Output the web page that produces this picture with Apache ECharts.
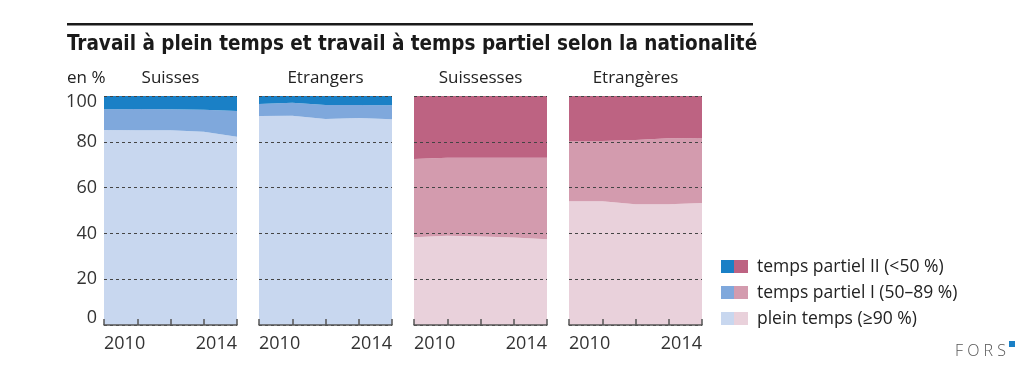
<!DOCTYPE html>
<html>
<head>
<meta charset="utf-8">
<script src="https://cdn.jsdelivr.net/npm/echarts@6/dist/echarts.min.js"></script>
<style>
  html, body { margin: 0; padding: 0; background: #fff; }
  #chart { width: 1035px; height: 376px; }
</style>
</head>
<body>
<div id="chart"></div>
<script>
// 数据
const years = ['2010', '2011', '2012', '2013', '2014']
const panelNames = ['Suisses', 'Etrangers', 'Suissesses', 'Etrangères']
const legendNames = ['temps partiel II (<50 %)', 'temps partiel I (50–89 %)', 'plein temps (≥90 %)']

// plein temps / temps partiel I / temps partiel II
const suissesPlein = [85.1, 85.0, 85.0, 84.4, 82.2]
const suissesPartiel1 = [9.1, 9.3, 9.2, 9.6, 11.2]
const suissesPartiel2 = [5.8, 5.7, 5.8, 6.0, 6.6]

const etrangersPlein = [91.3, 91.4, 90.0, 90.4, 89.8]
const etrangersPartiel1 = [5.2, 5.7, 6.1, 5.7, 6.2]
const etrangersPartiel2 = [3.5, 2.9, 3.9, 3.9, 4.0]

const suissessesPlein = [38.3, 39.0, 38.6, 38.2, 37.4]
const suissessesPartiel1 = [34.2, 34.0, 34.4, 34.8, 35.6]
const suissessesPartiel2 = [27.5, 27.0, 27.0, 27.0, 27.0]

const etrangeresPlein = [54.0, 54.0, 52.7, 52.7, 53.3]
const etrangeresPartiel1 = [26.3, 26.3, 28.1, 28.8, 28.4]
const etrangeresPartiel2 = [19.7, 19.7, 19.2, 18.5, 18.3]

const panelData = [
  [suissesPlein, suissesPartiel1, suissesPartiel2],
  [etrangersPlein, etrangersPartiel1, etrangersPartiel2],
  [suissessesPlein, suissessesPartiel1, suissessesPartiel2],
  [etrangeresPlein, etrangeresPartiel1, etrangeresPartiel2]
]

// 颜色
const blues = ['#c8d7ef', '#7fa8dc', '#1a80c6']
const pinks = ['#e9d1db', '#d39bae', '#bd6382']
const panelColors = [blues, blues, pinks, pinks]

const font = 'Open Sans'
const gridLefts = [104, 259, 414, 569]
const gridWidth = 133
const gridTop = 96
const gridHeight = 229

const myChart = echarts.init(document.querySelector('#chart'))

const grids = gridLefts.map(left => ({ left: left, top: gridTop, width: gridWidth, height: gridHeight }))

const xAxes = gridLefts.map((l, i) => ({
  type: 'category',
  gridIndex: i,
  data: years,
  boundaryGap: false,
  axisLine: { lineStyle: { color: '#555', width: 1.5 } },
  axisTick: { inside: true, length: 6, lineStyle: { color: '#555', width: 1.5 } },
  axisLabel: {
    interval: 0,
    formatter: (v, idx) => (idx === 0 || idx === 4) ? v : '',
    color: '#333',
    fontFamily: font,
    fontSize: 18,
    margin: 10,
    alignMinLabel: 'left',
    alignMaxLabel: 'right'
  },
  z: 5
}))

const yAxes = gridLefts.map((l, i) => ({
  type: 'value',
  gridIndex: i,
  min: 0,
  max: 100,
  interval: 20,
  axisLine: { show: false },
  axisTick: { show: false },
  axisLabel: {
    show: i === 0,
    color: '#333',
    fontFamily: font,
    fontSize: 18,
    margin: 7,
    // 首尾标签向内收
    formatter: v => v === 100 ? '{top|100}' : (v === 0 ? '{bot|0}' : v),
    rich: {
      top: { fontFamily: font, fontSize: 18, color: '#333', padding: [12, 0, 0, 0] },
      bot: { fontFamily: font, fontSize: 18, color: '#333', padding: [0, 0, 14, 0] }
    }
  },
  splitLine: {
    show: true,
    lineStyle: { color: '#444', type: [3, 3], width: 1 }
  },
  z: 5
}))

const series = []
panelData.forEach((rows, i) => {
  rows.forEach((vals, k) => {
    series.push({
      type: 'line',
      name: panelNames[i] + '-' + k,
      xAxisIndex: i,
      yAxisIndex: i,
      stack: 'p' + i,
      data: vals,
      symbol: 'none',
      lineStyle: { width: 0 },
      areaStyle: { color: panelColors[i][k], opacity: 1 },
      z: 2
    })
  })
})

// 标题、面板标题、图例
const graphics = [
  { type: 'rect', shape: { x: 67, y: 23, width: 686, height: 2.5 }, style: { fill: '#1a1a1a' } },
  {
    type: 'text', left: 67, top: 34,
    style: { text: 'Travail à plein temps et travail à temps partiel selon la nationalité', fill: '#1a1a1a', font: 'bold 20.5px "Liberation Sans Narrow", "DejaVu Sans Condensed", sans-serif' }
  },
  { type: 'text', x: 67, y: 78, style: { text: 'en %', fill: '#222', font: '17px "Open Sans"', verticalAlign: 'middle' } }
]
panelNames.forEach((n, i) => {
  graphics.push({
    type: 'text', x: gridLefts[i] + gridWidth / 2, y: 78,
    style: { text: n, fill: '#222', font: '17px "Open Sans"', align: 'center', verticalAlign: 'middle' }
  })
})
const legendY = [260, 286, 312]
legendNames.forEach((n, k) => {
  const c = 2 - k
  graphics.push({ type: 'rect', shape: { x: 721, y: legendY[k], width: 13, height: 13 }, style: { fill: blues[c] } })
  graphics.push({ type: 'rect', shape: { x: 734, y: legendY[k], width: 14, height: 13 }, style: { fill: pinks[c] } })
  graphics.push({
    type: 'text', x: 757, y: legendY[k] + 7,
    style: { text: n, fill: '#222', font: '17.5px "Open Sans"', verticalAlign: 'middle' }
  })
})
graphics.push({ type: 'text', x: 955, y: 351, style: { text: 'F O R S', fill: '#555', font: '300 16px "Open Sans"', verticalAlign: 'middle' } })
graphics.push({ type: 'rect', shape: { x: 1009, y: 341, width: 6, height: 6 }, style: { fill: '#1a80c6' } })

const option = {
  animation: false,
  grid: grids,
  xAxis: xAxes,
  yAxis: yAxes,
  series: series,
  graphic: graphics
}
myChart.setOption(option)
</script>
</body>
</html>
